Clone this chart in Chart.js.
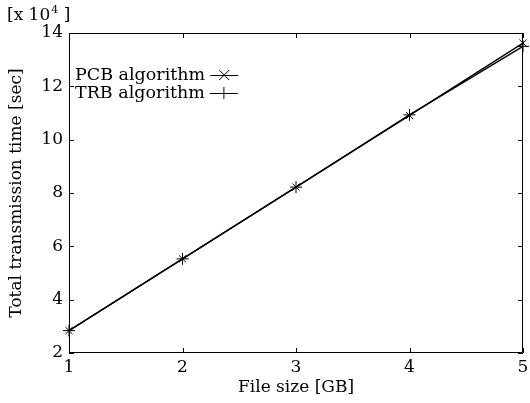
<!DOCTYPE html>
<html>
<head>
<meta charset="utf-8">
<script src="https://cdn.jsdelivr.net/npm/chart.js@4"></script>
<style>
html,body{margin:0;padding:0;background:#fff;}
#wrap{width:530px;height:403px;}
</style>
</head>
<body>
<div id="wrap"><canvas id="c" width="530" height="403"></canvas></div>
<script>
const fileSizes = [1, 2, 3, 4, 5];
const pcbValues = [2.84, 5.53, 8.22, 10.91, 13.62];
const trbValues = [2.84, 5.53, 8.22, 10.93, 13.5];
const xTicks = [1, 2, 3, 4, 5];
const yTicks = [2, 4, 6, 8, 10, 12, 14];
const seriesNames = ['PCB algorithm', 'TRB algorithm'];

const FONT = '"DejaVu Serif", serif';
const FS = 17;

const toPts = vals => fileSizes.map((x, i) => ({x: x, y: vals[i]}));

const boxTicks = {
  id: 'boxTicks',
  afterDraw(chart) {
    const {ctx, chartArea: a, scales} = chart;
    ctx.save();
    ctx.strokeStyle = '#000';
    ctx.lineWidth = 1;
    ctx.beginPath();
    ctx.rect(a.left + 0.5, a.top + 0.5, a.right - a.left - 1, a.bottom - a.top - 1);
    ctx.stroke();
    const L = 5;
    ctx.beginPath();
    xTicks.forEach(v => {
      const px = Math.round(scales.x.getPixelForValue(v)) + 0.5;
      ctx.moveTo(px, a.bottom); ctx.lineTo(px, a.bottom - L);
      ctx.moveTo(px, a.top); ctx.lineTo(px, a.top + L);
    });
    yTicks.forEach(v => {
      const py = Math.round(scales.y.getPixelForValue(v)) + 0.5;
      ctx.moveTo(a.left, py); ctx.lineTo(a.left + L, py);
      ctx.moveTo(a.right, py); ctx.lineTo(a.right - L, py);
    });
    ctx.stroke();

    // exponent label
    ctx.fillStyle = '#000';
    ctx.textBaseline = 'alphabetic';
    ctx.textAlign = 'left';
    ctx.font = FS + 'px ' + FONT;
    let x = 7, y = 20;
    ctx.fillText('[x 10', x, y);
    x += ctx.measureText('[x 10').width;
    ctx.font = '11px ' + FONT;
    ctx.fillText('4', x + 1, y - 7);
    x += ctx.measureText('4').width + 1;
    ctx.font = FS + 'px ' + FONT;
    ctx.fillText(' ]', x, y);

    // legend
    const items = [
      {name: seriesNames[0], y: 75, style: 'x'},
      {name: seriesNames[1], y: 93, style: '+'}
    ];
    ctx.font = '17.5px ' + FONT;
    ctx.textBaseline = 'middle';
    items.forEach(it => {
      ctx.fillText(it.name, 75, it.y);
      const w = ctx.measureText(it.name).width;
      const lx0 = 75 + w + 5, lx1 = lx0 + 28, cx = (lx0 + lx1) / 2;
      ctx.beginPath();
      ctx.moveTo(lx0, it.y + 0.5); ctx.lineTo(lx1, it.y + 0.5);
      const r = 5;
      if (it.style === 'x') {
        ctx.moveTo(cx - r, it.y - r); ctx.lineTo(cx + r, it.y + r);
        ctx.moveTo(cx - r, it.y + r); ctx.lineTo(cx + r, it.y - r);
      } else {
        ctx.moveTo(cx, it.y - r - 1); ctx.lineTo(cx, it.y + r + 1);
      }
      ctx.stroke();
    });
    ctx.restore();
  }
};

new Chart(document.getElementById('c'), {
  type: 'line',
  data: {
    datasets: [
      {label: seriesNames[0], data: toPts(pcbValues), borderColor: '#000', backgroundColor: '#000',
       borderWidth: 1.3, pointStyle: 'crossRot', pointRadius: 5, pointBorderWidth: 1, pointBorderColor: '#000', tension: 0},
      {label: seriesNames[1], data: toPts(trbValues), borderColor: '#000', backgroundColor: '#000',
       borderWidth: 1.3, pointStyle: 'cross', pointRadius: 6, pointBorderWidth: 1, pointBorderColor: '#000', tension: 0}
    ]
  },
  options: {
    responsive: false,
    animation: false,
    clip: false,
    layout: {padding: {left: 0, right: 5, top: 33, bottom: 0}},
    plugins: {legend: {display: false}, tooltip: {enabled: false}},
    scales: {
      x: {
        type: 'linear', min: 1, max: 5,
        afterBuildTicks: s => { s.ticks = xTicks.map(v => ({value: v})); },
        afterFit: s => { s.height = 50; s.paddingRight = 0; s.paddingLeft = 0; },
        grid: {display: false, drawTicks: false},
        border: {display: false},
        ticks: {color: '#000', font: {family: FONT, size: FS}, padding: 4},
        title: {display: true, text: 'File size [GB]', color: '#000', font: {family: FONT, size: FS}, padding: {top: 0, bottom: 5}}
      },
      y: {
        type: 'linear', min: 2, max: 14,
        afterBuildTicks: s => { s.ticks = yTicks.map(v => ({value: v})); },
        afterFit: s => { s.width = 69; s.paddingTop = 0; s.paddingBottom = 0; },
        grid: {display: false, drawTicks: false},
        border: {display: false},
        ticks: {color: '#000', font: {family: FONT, size: FS}, padding: 6},
        title: {display: true, text: 'Total transmission time [sec]', color: '#000', font: {family: FONT, size: FS}, padding: {top: 6, bottom: 2}}
      }
    }
  },
  plugins: [boxTicks]
});
</script>
</body>
</html>
